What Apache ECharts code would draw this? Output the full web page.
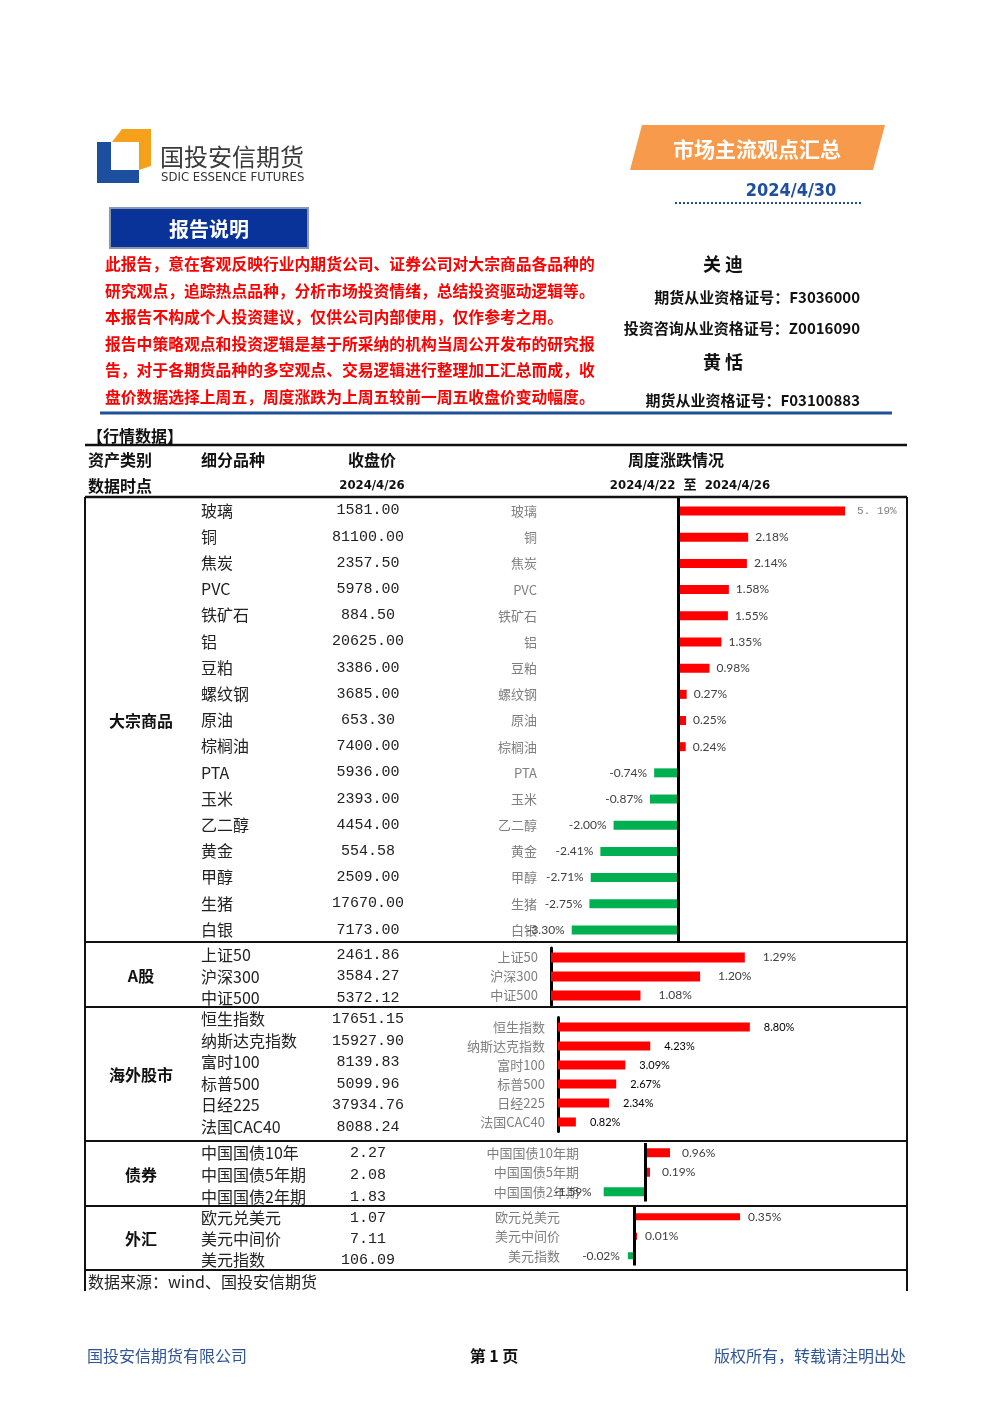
<!DOCTYPE html>
<html><head><meta charset="utf-8">
<script src="https://cdn.jsdelivr.net/npm/echarts/dist/echarts.min.js"></script>
<style>html,body{margin:0;padding:0;background:#fff}#c{width:992px;height:1403px}</style>
</head><body><div id="c"></div>
<script>
// ---------- data ----------
const commodityNames = ['玻璃','铜','焦炭','PVC','铁矿石','铝','豆粕','螺纹钢','原油','棕榈油','PTA','玉米','乙二醇','黄金','甲醇','生猪','白银'];
const commodityClose = [1581.00,81100.00,2357.50,5978.00,884.50,20625.00,3386.00,3685.00,653.30,7400.00,5936.00,2393.00,4454.00,554.58,2509.00,17670.00,7173.00];
const commodityChange = [5.19,2.18,2.14,1.58,1.55,1.35,0.98,0.27,0.25,0.24,-0.74,-0.87,-2.00,-2.41,-2.71,-2.75,-3.30];
const aShareNames = ['上证50','沪深300','中证500'];
const aShareClose = [2461.86,3584.27,5372.12];
const aShareChange = [1.29,1.20,1.08];
const overseasNames = ['恒生指数','纳斯达克指数','富时100','标普500','日经225','法国CAC40'];
const overseasClose = [17651.15,15927.90,8139.83,5099.96,37934.76,8088.24];
const overseasChange = [8.80,4.23,3.09,2.67,2.34,0.82];
const bondNames = ['中国国债10年期','中国国债5年期','中国国债2年期'];
const bondClose = [2.27,2.08,1.83];
const bondChange = [0.96,0.19,-1.59];
const fxNames = ['欧元兑美元','美元中间价','美元指数'];
const fxClose = [1.07,7.11,106.09];
const fxChange = [0.35,0.01,-0.02];

const introLines = [
  '此报告，意在客观反映行业内期货公司、证券公司对大宗商品各品种的',
  '研究观点，追踪热点品种，分析市场投资情绪，总结投资驱动逻辑等。',
  '本报告不构成个人投资建议，仅供公司内部使用，仅作参考之用。',
  '报告中策略观点和投资逻辑是基于所采纳的机构当周公开发布的研究报',
  '告，对于各期货品种的多空观点、交易逻辑进行整理加工汇总而成，收',
  '盘价数据选择上周五，周度涨跌为上周五较前一周五收盘价变动幅度。'
];

// ---------- layout ----------
const CJK = '"Noto Sans CJK SC","Noto Sans",sans-serif';
const sections = [
  {title:'大宗商品', names:commodityNames, close:commodityClose, change:commodityChange, top:497, bottom:942, rowY0:510.5, rowStep:26.2,
   grid:{left:545, top:498, height:445}, min:-4.13, max:6.5, ppu:32.2, labelMargin:8, barWidth:9, axisLine:false, valFont:12, valColor:'#404040', valDist:7},
  {title:'A股', names:aShareNames, close:aShareClose, change:aShareChange, top:942, bottom:1007, rowY0:955, rowStep:21.5,
   grid:{left:551, top:948, height:57}, min:0.9, max:1.6, ppu:497, labelMargin:13, barWidth:10, axisLine:true, valFont:12, valColor:'#404040', valDist:18},
  {title:'海外股市', names:overseasNames, close:overseasClose, change:overseasChange, top:1007, bottom:1141, rowY0:1019, rowStep:21.6,
   grid:{left:558, top:1017.5, height:114}, min:0, max:15, ppu:21.8, labelMargin:13, barWidth:9, axisLine:true, valFont:11, valColor:'#000', valDist:14},
  {title:'债券', names:bondNames, close:bondClose, change:bondChange, top:1141, bottom:1206, rowY0:1153, rowStep:22,
   grid:{left:585, top:1143, height:58.5}, min:-2.31, max:5, ppu:26, labelMargin:6, barWidth:9, axisLine:false, valFont:12, valColor:'#404040', valDist:12, nameWidth:108},
  {title:'外汇', names:fxNames, close:fxClose, change:fxChange, top:1206, bottom:1270, rowY0:1218, rowStep:21,
   grid:{left:566, top:1207, height:58.5}, min:-0.2244, max:0.7, ppu:303, labelMargin:6, barWidth:7, axisLine:false, valFont:12, valColor:'#404040', valDist:8}
];

function txt(x, y, text, font, fill, align, extra) {
  const st = {text, x, y, font, fill: fill || '#222', textAlign: align || 'left', textVerticalAlign: 'middle'};
  if (extra) Object.assign(st, extra);
  return {type:'text', style: st, z: 10};
}
function line(x1, y1, x2, y2, w, color, dash) {
  const st = {stroke: color || '#000', lineWidth: w || 1};
  if (dash) st.lineDash = dash;
  return {type:'line', shape:{x1, y1, x2, y2}, style: st, z: 5};
}

const g = [];
// logo
g.push({type:'polygon', shape:{points:[[97,142],[111,142],[111,170],[139,170],[139,183],[97,183]]}, style:{fill:'#1d4f9f'}});
g.push({type:'polygon', shape:{points:[[122,129],[151,129],[151,166],[139,170],[139,142],[112,142]]}, style:{fill:'#f5a11c'}});
g.push(txt(160, 157, '国投安信期货', '24px ' + CJK, '#3a3a3a'));
g.push(txt(161, 178, 'SDIC ESSENCE FUTURES', '13px "Liberation Sans Narrow","DejaVu Sans Condensed",sans-serif', '#333'));
// 报告说明 box
g.push({type:'rect', shape:{x:110, y:208, width:198, height:40}, style:{fill:'#0a3399', stroke:'#8a97b0', lineWidth:2}});
g.push(txt(209, 229, '报告说明', 'bold 20px ' + CJK, '#fff', 'center'));
// intro lines
introLines.forEach((s, i) => g.push(txt(105, 264 + i * 26.6, s, 'bold 15.8px ' + CJK, '#ff0000')));
// orange banner
g.push({type:'polygon', shape:{points:[[642,125],[885,125],[873,170],[630,170]]}, style:{fill:'#f79a4b'}});
g.push(txt(757, 149, '市场主流观点汇总', 'bold 21px ' + CJK, '#fff', 'center'));
g.push(txt(791, 191, '2024/4/30', 'bold 18px "Liberation Sans Narrow","DejaVu Sans Condensed",sans-serif', '#1f4e9e', 'center'));
g.push(line(675, 203, 862, 203, 2, '#1f4e9e', [2, 2]));
g.push(txt(723, 264, '关 迪', 'bold 18px ' + CJK, '#111', 'center'));
g.push(txt(860, 297, '期货从业资格证号：F3036000', 'bold 15px ' + CJK, '#111', 'right'));
g.push(txt(860, 328, '投资咨询从业资格证号：Z0016090', 'bold 15px ' + CJK, '#111', 'right'));
g.push(txt(723, 362, '黄 恬', 'bold 18px ' + CJK, '#111', 'center'));
g.push(txt(860, 400, '期货从业资格证号：F03100883', 'bold 15px ' + CJK, '#111', 'right'));
g.push(line(100, 413, 892, 413, 3, '#1f5199'));

// table header
g.push(txt(87, 436, '【行情数据】', 'bold 16px ' + CJK, '#111'));
g.push(line(85, 445, 907, 445, 2.5, '#111'));
g.push(txt(88, 460, '资产类别', 'bold 16px ' + CJK, '#111'));
g.push(txt(201, 460, '细分品种', 'bold 16px ' + CJK, '#111'));
g.push(txt(372, 460, '收盘价', 'bold 16px ' + CJK, '#111', 'center'));
g.push(txt(676, 460, '周度涨跌情况', 'bold 16px ' + CJK, '#111', 'center'));
g.push(txt(88, 486, '数据时点', 'bold 16px ' + CJK, '#111'));
g.push(txt(372, 486, '2024/4/26', 'bold 13px "DejaVu Sans Condensed","Liberation Sans Narrow",sans-serif', '#111', 'center'));
g.push(txt(690, 486, '2024/4/22  至  2024/4/26', 'bold 13px "DejaVu Sans Condensed",' + CJK, '#111', 'center'));
g.push(line(85, 497, 907, 497, 2.5, '#111'));
g.push(line(85, 497, 85, 1291, 2, '#111'));
g.push(line(907, 497, 907, 1291, 2, '#111'));

const grids = [], xAxes = [], yAxes = [], series = [];
sections.forEach((s, si) => {
  g.push(line(85, s.bottom, 907, s.bottom, 2, '#111'));
  g.push(txt(141, (s.top + s.bottom) / 2 + 1, s.title, 'bold 16px ' + CJK, '#111', 'center'));
  s.names.forEach((n, i) => {
    const y = s.rowY0 + i * s.rowStep;
    const extra = s.nameWidth ? {width: s.nameWidth, overflow: 'truncate', ellipsis: ''} : null;
    g.push(txt(201, y, n, '16px ' + CJK, '#222', 'left', extra));
    g.push(txt(368, y, s.close[i].toFixed(2), '15px "Liberation Mono","DejaVu Sans Mono",monospace', '#222', 'center'));
  });
  grids.push({left: s.grid.left, top: s.grid.top, height: s.grid.height, width: (s.max - s.min) * s.ppu});
  xAxes.push({type:'value', gridIndex: si, min: s.min, max: s.max, show: false});
  yAxes.push({type:'category', gridIndex: si, inverse: true, data: s.names,
    axisTick:{show:false},
    axisLine:{show: s.axisLine, onZero: false, lineStyle:{color:'#000', width:3}},
    axisLabel:{color:'#7f7f7f', fontSize:13, fontFamily: CJK, margin: s.labelMargin}});
  const ser = {type:'bar', xAxisIndex: si, yAxisIndex: si, barWidth: s.barWidth, silent: true, animation: false,
    label:{show:true, distance: s.valDist, fontSize: s.valFont, color: s.valColor, fontFamily:'Lato,"Open Sans",sans-serif',
      formatter: p => p.value.toFixed(2) + '%'},
    data: s.change.map(v => ({value: v, itemStyle:{color: v >= 0 ? '#ff0000' : '#00b050'}, label:{position: v >= 0 ? 'right' : 'left'}}))};
  if (!s.axisLine) {
    ser.markLine = {symbol:'none', silent:true, label:{show:false}, animation:false,
      lineStyle:{color:'#000', width:3, type:'solid'}, data:[{xAxis:0}]};
  }
  series.push(ser);
});
// first commodity label in the grey serif style
series[0].data[0].label = {position:'right', distance:12, color:'#7f7f7f', fontFamily:'"Liberation Mono",monospace', fontSize:11, formatter: p => p.value.toFixed(2).replace('.', '. ') + '%'};

// footnote & footer
g.push(txt(88, 1282, '数据来源：wind、国投安信期货', '16px ' + CJK, '#222'));
g.push(txt(87, 1356, '国投安信期货有限公司', '16px ' + CJK, '#2f5597'));
g.push(txt(494, 1356, '第 1 页', 'bold 16px ' + CJK, '#111', 'center'));
g.push(txt(906, 1356, '版权所有，转载请注明出处', '16px ' + CJK, '#2f5597', 'right'));

const chart = echarts.init(document.getElementById('c'), null, {renderer:'canvas'});
chart.setOption({
  backgroundColor:'#fff',
  animation:false,
  grid: grids, xAxis: xAxes, yAxis: yAxes, series: series,
  graphic: {elements: g}
});
</script></body></html>
